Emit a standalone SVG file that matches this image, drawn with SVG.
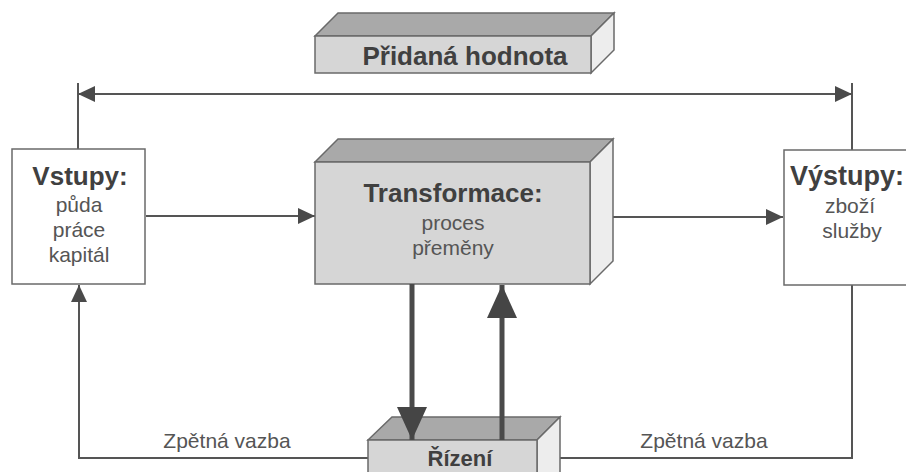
<svg xmlns="http://www.w3.org/2000/svg" width="906" height="472" viewBox="0 0 906 472">
  <style>
    .front { fill: #d6d6d6; stroke: #6a6a6a; stroke-width: 1.5; }
    .top { fill: #a9a9a9; stroke: #6a6a6a; stroke-width: 1.5; }
    .side { fill: #ededed; stroke: #6a6a6a; stroke-width: 1.5; }
    .plain { fill: #ffffff; stroke: #6a6a6a; stroke-width: 1.5; }
    .title { font-family: "Liberation Sans", Arial, sans-serif; font-weight: bold; font-size: 26px; fill: #404040; text-anchor: middle; }
    .sub { font-family: "Liberation Sans", Arial, sans-serif; font-size: 21px; fill: #555555; text-anchor: middle; }
    .thin { fill: none; stroke: #555555; stroke-width: 2; }
    .thick { fill: none; stroke: #4a4a4a; stroke-width: 5; }
  </style>
  <defs>
    <marker id="head" markerUnits="userSpaceOnUse" markerWidth="18" markerHeight="16" refX="17" refY="8" orient="auto-start-reverse">
      <path d="M0,0 L17,8 L0,16 Z" fill="#4a4a4a"/>
    </marker>
    <marker id="bighead" markerUnits="userSpaceOnUse" markerWidth="34" markerHeight="30" refX="33" refY="15" orient="auto">
      <path d="M0,0 L33,15 L0,30 Z" fill="#454545"/>
    </marker>
  </defs>

  <rect width="906" height="472" fill="#ffffff"/>

  <!-- connectors -->
  <g id="connectors">
    <line class="thin" x1="78" y1="83" x2="78" y2="149"/>
    <line class="thin" x1="852" y1="83" x2="852" y2="150"/>
    <line class="thin" x1="78" y1="94" x2="852" y2="94" marker-start="url(#head)" marker-end="url(#head)"/>
    <line class="thin" x1="146" y1="216" x2="315" y2="216" marker-end="url(#head)"/>
    <line class="thin" x1="590" y1="217" x2="783" y2="217" marker-end="url(#head)"/>
    <path class="thin" d="M368,458 H79 V285" marker-end="url(#head)"/>
    <path class="thin" d="M852,285 V458 H537" marker-end="url(#head)"/>
  </g>

  <!-- value added bar -->
  <g id="pridana-hodnota">
    <polygon class="top" points="315,36 338,13 614,13 591,36"/>
    <polygon class="side" points="591,36 614,13 614,50 591,73"/>
    <rect class="front" x="315" y="36" width="276" height="37"/>
    <text class="title" x="465" y="65">Přidaná hodnota</text>
  </g>

  <!-- inputs -->
  <g id="vstupy">
    <rect class="plain" x="12" y="149" width="133" height="135"/>
    <text class="title" x="80" y="185">Vstupy:</text>
    <text class="sub" x="79" y="212">půda</text>
    <text class="sub" x="79" y="237">práce</text>
    <text class="sub" x="79" y="262">kapitál</text>
  </g>

  <!-- transformation -->
  <g id="transformace">
    <polygon class="top" points="315,162 338,139 613,139 590,162"/>
    <polygon class="side" points="590,162 613,139 613,261 590,284"/>
    <rect class="front" x="315" y="162" width="275" height="122"/>
    <text class="title" x="453" y="202">Transformace:</text>
    <text class="sub" x="453" y="230">proces</text>
    <text class="sub" x="453" y="255">přeměny</text>
  </g>

  <!-- outputs -->
  <g id="vystupy">
    <rect class="plain" x="784" y="150" width="130" height="135"/>
    <text class="title" x="847" y="185" style="font-size:27px">Výstupy:</text>
    <text class="sub" x="850" y="213">zboží</text>
    <text class="sub" x="852" y="238">služby</text>
  </g>

  <!-- control -->
  <g id="rizeni">
    <polygon class="top" points="368,440 392,417 560,417 537,440"/>
    <polygon class="side" points="537,440 560,417 560,480 537,503"/>
    <rect class="front" x="368" y="440" width="169" height="60"/>
    <text class="title" x="460" y="466" style="font-size:22px">Řízení</text>
  </g>

  <!-- control loop -->
  <g id="control-arrows">
    <line class="thick" x1="412" y1="284" x2="412" y2="440" marker-end="url(#bighead)"/>
    <line class="thick" x1="502" y1="440" x2="502" y2="285" marker-end="url(#bighead)"/>
  </g>

  <g id="feedback-labels">
    <text class="sub" x="227" y="448">Zpětná vazba</text>
    <text class="sub" x="704" y="448">Zpětná vazba</text>
  </g>
</svg>
